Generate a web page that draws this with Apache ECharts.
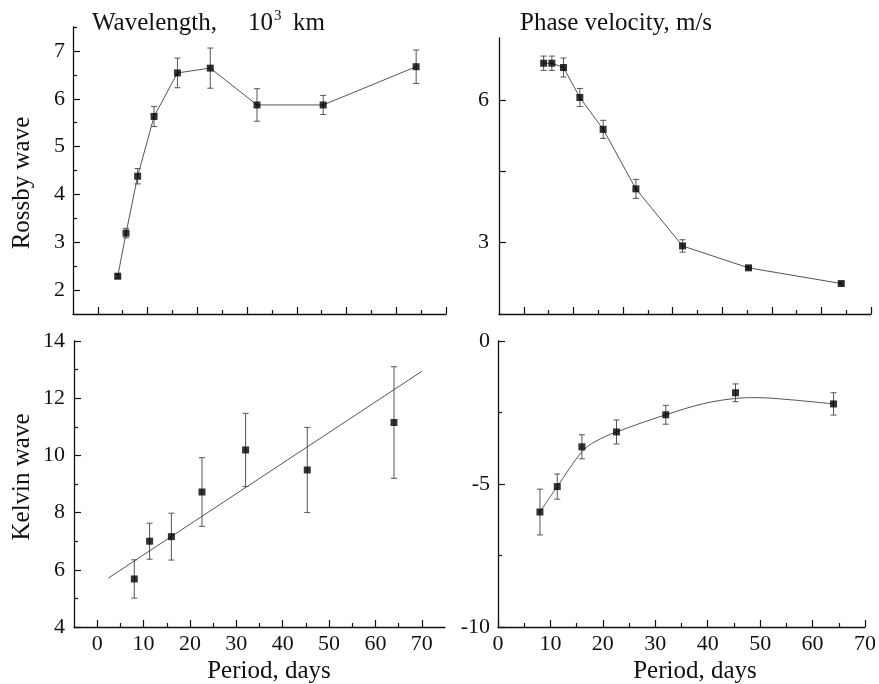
<!DOCTYPE html>
<html>
<head>
<meta charset="utf-8">
<script src="https://cdn.jsdelivr.net/npm/echarts@6/dist/echarts.min.js"></script>
<style>
  html, body { margin: 0; padding: 0; background: #fff; }
  #chart { width: 879px; height: 684px; }
</style>
</head>
<body>
<div id="chart"></div>
<script>
// ---- data ----
const periodsRossby = [4, 5.66, 8, 11.3, 16, 22.6, 32, 45.3, 64];
const wavelengthRossby = [2.29, 3.19, 4.38, 5.63, 6.54, 6.64, 5.87, 5.87, 6.67];
const wavelengthRossbyErr = [0.04, 0.1, 0.16, 0.21, 0.31, 0.42, 0.34, 0.2, 0.35];
const velocityRossby = [6.77, 6.77, 6.68, 6.05, 5.38, 4.13, 2.93, 2.47, 2.14];
const velocityRossbyErr = [0.15, 0.15, 0.2, 0.19, 0.19, 0.2, 0.13, 0.03, 0.03];

const periodsKelvin = [8, 11.3, 16, 22.6, 32, 45.3, 64];
const wavelengthKelvin = [5.68, 7.0, 7.16, 8.72, 10.19, 9.49, 11.15];
const wavelengthKelvinErr = [0.67, 0.63, 0.82, 1.2, 1.28, 1.49, 1.95];
const velocityKelvin = [-5.98, -5.09, -3.70, -3.18, -2.58, -1.81, -2.2];
const velocityKelvinErr = [0.8, 0.44, 0.42, 0.42, 0.33, 0.31, 0.39];

// fitted line (bottom left) and fitted curve (bottom right)
const kelvinFitX = [2.4, 70];
const kelvinFitY = [5.71, 12.94];
const kelvinCurveX = [8, 11.3, 16, 18.5, 22.6, 32, 39.2, 45.2, 49.2, 55.5, 64];
const kelvinCurveY = [-5.98, -5.09, -3.87, -3.52, -3.18, -2.58, -2.19, -2.01, -1.98, -2.05, -2.2];

// tick labels
const periodLabels = [0, 10, 20, 30, 40, 50, 60, 70];
const periodMinor = [5, 15, 25, 35, 45, 55, 65];
const rossbyWlLabels = [2, 3, 4, 5, 6, 7];
const rossbyWlMinor = [2.5, 3.5, 4.5, 5.5, 6.5, 7.5];
const rossbyVelLabels = [3, 6];
const rossbyVelTicks = [3, 4.5, 6];
const kelvinWlLabels = [4, 6, 8, 10, 12, 14];
const kelvinWlMinor = [5, 7, 9, 11, 13];
const kelvinVelLabels = [0, -5, -10];
const kelvinVelMinor = [-2.5, -7.5];

const FONT = 'Liberation Serif';
const INK = '#111';

const zip = (xs, ys, es) => xs.map((x, i) => es ? [x, ys[i], es[i]] : [x, ys[i]]);

// main axis + overlay axis (same side) for the shorter minor ticks
function axisPair(position, gridIndex, min, max, labels, majors, minors, margin) {
  const main = {
    type: 'value', position, gridIndex, min, max,
    axisLine: { show: true, onZero: false, lineStyle: { color: INK, width: 1.3 } },
    splitLine: { show: false },
    axisTick: { show: majors.length > 0, inside: true, length: 7, customValues: majors, lineStyle: { color: INK, width: 1.2 } },
    axisLabel: { show: labels.length > 0, customValues: labels, margin, fontFamily: FONT, fontSize: 22, color: INK }
  };
  const minor = {
    type: 'value', position, gridIndex, min, max,
    axisLine: { show: false, onZero: false },
    splitLine: { show: false },
    axisTick: { show: minors.length > 0, inside: true, length: 4, customValues: minors, lineStyle: { color: INK, width: 1.2 } },
    axisLabel: { show: false }
  };
  return [main, minor];
}

function errorBars(xi, yi, data) {
  return {
    type: 'custom', xAxisIndex: xi, yAxisIndex: yi, data, z: 2,
    renderItem(params, api) {
      const x = api.value(0), y = api.value(1), e = api.value(2);
      const top = api.coord([x, y + e]);
      const bot = api.coord([x, y - e]);
      const w = 3;
      const style = { stroke: '#555', lineWidth: 1 };
      return {
        type: 'group',
        children: [
          { type: 'line', shape: { x1: top[0], y1: top[1], x2: bot[0], y2: bot[1] }, style },
          { type: 'line', shape: { x1: top[0] - w, y1: top[1], x2: top[0] + w, y2: top[1] }, style },
          { type: 'line', shape: { x1: bot[0] - w, y1: bot[1], x2: bot[0] + w, y2: bot[1] }, style }
        ]
      };
    }
  };
}

function markers(xi, yi, data) {
  return { type: 'scatter', xAxisIndex: xi, yAxisIndex: yi, data, symbol: 'rect', symbolSize: 7,
    itemStyle: { color: '#000' }, z: 4 };
}

function curve(xi, yi, data, smooth) {
  return { type: 'line', xAxisIndex: xi, yAxisIndex: yi, data, showSymbol: false, smooth: smooth || false,
    lineStyle: { color: '#555', width: 1 }, z: 3 };
}

const grids = [
  { left: 73, top: 27, width: 373, height: 287 },     // Rossby wavelength
  { left: 499, top: 38, width: 372, height: 276 },    // Rossby phase velocity
  { left: 74, top: 341, width: 371, height: 286 },    // Kelvin wavelength
  { left: 498, top: 341, width: 373, height: 286 }    // Kelvin phase velocity
];

const xAxes = [].concat(
  axisPair('bottom', 0, -5, 70, [], periodLabels, periodMinor, 8),
  axisPair('bottom', 1, -5, 70, [], periodLabels, periodMinor, 8),
  axisPair('bottom', 2, -5, 75, periodLabels, periodLabels, periodMinor, 6),
  axisPair('bottom', 3, 0, 70, periodLabels, periodLabels, periodMinor, 6)
);
const yAxes = [].concat(
  axisPair('left', 0, 1.5, 7.5, rossbyWlLabels, rossbyWlLabels, rossbyWlMinor, 8),
  axisPair('left', 1, 1.5, 7.3, rossbyVelLabels, rossbyVelTicks, [], 10),
  axisPair('left', 2, 4, 14, kelvinWlLabels, kelvinWlLabels, kelvinWlMinor, 9),
  axisPair('left', 3, -10, 0, kelvinVelLabels, kelvinVelLabels, kelvinVelMinor, 8)
);

const series = [
  curve(0, 0, zip(periodsRossby, wavelengthRossby)),
  errorBars(0, 0, zip(periodsRossby, wavelengthRossby, wavelengthRossbyErr)),
  markers(0, 0, zip(periodsRossby, wavelengthRossby)),

  curve(2, 2, zip(periodsRossby, velocityRossby)),
  errorBars(2, 2, zip(periodsRossby, velocityRossby, velocityRossbyErr)),
  markers(2, 2, zip(periodsRossby, velocityRossby)),

  curve(4, 4, zip(kelvinFitX, kelvinFitY)),
  errorBars(4, 4, zip(periodsKelvin, wavelengthKelvin, wavelengthKelvinErr)),
  markers(4, 4, zip(periodsKelvin, wavelengthKelvin)),

  curve(6, 6, zip(kelvinCurveX, kelvinCurveY), 0.35),
  errorBars(6, 6, zip(periodsKelvin, velocityKelvin, velocityKelvinErr)),
  markers(6, 6, zip(periodsKelvin, velocityKelvin))
];

function txt(text, x, y, size, align, rotation) {
  return {
    type: 'text', x, y, rotation: rotation || 0,
    style: { text, font: `${size}px "${FONT}"`, fill: INK, verticalAlign: 'middle', align: align || 'left' }
  };
}

const graphic = [
  txt('Wavelength,', 92, 23, 25),
  txt('10', 248, 23, 25),
  txt('3', 274, 16, 15),
  txt('km', 293, 23, 25),
  txt('Phase velocity, m/s', 520, 23, 25),
  txt('Rossby wave', 22, 183, 25, 'center', Math.PI / 2),
  txt('Kelvin wave', 22, 477, 25, 'center', Math.PI / 2),
  txt('Period, days', 269, 671, 25, 'center'),
  txt('Period, days', 695, 671, 25, 'center')
];

const chart = echarts.init(document.getElementById('chart'));
chart.setOption({
  backgroundColor: '#fff',
  animation: false,
  grid: grids,
  xAxis: xAxes,
  yAxis: yAxes,
  series,
  graphic
});
</script>
</body>
</html>
